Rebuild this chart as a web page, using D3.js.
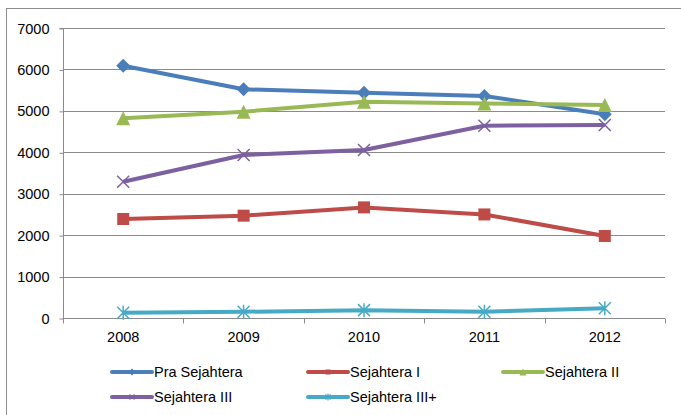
<!DOCTYPE html>
<html>
<head>
<meta charset="utf-8">
<script src="https://cdn.jsdelivr.net/npm/d3@7"></script>
<style>
body { margin: 0; background: #fff; }
svg { display: block; font-family: "Liberation Sans", Arial, sans-serif; }
</style>
</head>
<body>
<svg id="chart" width="681" height="415"></svg>
<script>
var years = ["2008", "2009", "2010", "2011", "2012"];
var yTicks = [0, 1000, 2000, 3000, 4000, 5000, 6000, 7000];
var seriesNames = ["Pra Sejahtera", "Sejahtera I", "Sejahtera II", "Sejahtera III", "Sejahtera III+"];
var praSejahtera = [6090, 5520, 5440, 5360, 4920];
var sejahtera1 = [2390, 2470, 2670, 2500, 1980];
var sejahtera2 = [4820, 4980, 5220, 5180, 5140];
var sejahtera3 = [3290, 3935, 4055, 4640, 4660];
var sejahtera3plus = [128, 150, 190, 150, 235];
var colors = ["#4a7ebb", "#be4b48", "#98b954", "#7d60a0", "#46aac5"];
var markers = ["diamond", "square", "triangle", "x", "star"];

var series = [praSejahtera, sejahtera1, sejahtera2, sejahtera3, sejahtera3plus].map(function(v, i) {
    return { name: seriesNames[i], values: v, color: colors[i], marker: markers[i] };
});

var svg = d3.select("#chart");

// outer chart frame (cut off at right and bottom)
svg.append("rect")
    .attr("x", 6.5).attr("y", 8.5)
    .attr("width", 700).attr("height", 420)
    .attr("fill", "none").attr("stroke", "#8c8c8c").attr("stroke-width", 1);

var plotLeft = 63, plotRight = 665, plotTop = 28, plotBottom = 318;

var x = d3.scaleBand().domain(years).range([plotLeft, plotRight]);
var y = d3.scaleLinear().domain([0, 7000]).range([plotBottom, plotTop]);

// gridlines
svg.append("g").selectAll("line")
    .data(yTicks.filter(function(d) { return d > 0; }))
    .enter().append("line")
    .attr("x1", plotLeft).attr("x2", plotRight)
    .attr("y1", function(d) { return Math.round(y(d)) + 0.5; })
    .attr("y2", function(d) { return Math.round(y(d)) + 0.5; })
    .attr("stroke", "#8a8a8a").attr("stroke-width", 1);

// y axis
var yAxis = svg.append("g")
    .attr("transform", "translate(" + (plotLeft + 0.5) + ",0.5)")
    .call(d3.axisLeft(y).tickValues(yTicks).tickSize(4).tickPadding(10).tickFormat(d3.format("d")));
yAxis.selectAll("line, path").attr("stroke", "#8a8a8a");
yAxis.select(".domain").attr("d", "M-4," + plotTop + "H0V" + plotBottom);
yAxis.selectAll("text").attr("font-size", "14.5px").attr("fill", "#000")
    .attr("font-family", "Liberation Sans, Arial, sans-serif");

// x axis with ticks at band edges
var xg = svg.append("g").attr("transform", "translate(0," + (plotBottom + 0.5) + ")");
xg.append("line").attr("x1", plotLeft).attr("x2", plotRight).attr("stroke", "#8a8a8a");
var edges = years.map(function(d) { return x(d); }).concat([plotRight]);
xg.selectAll(".tk").data(edges).enter().append("line")
    .attr("x1", function(d) { return Math.round(d) + 0.5; })
    .attr("x2", function(d) { return Math.round(d) + 0.5; })
    .attr("y1", 0).attr("y2", 5).attr("stroke", "#8a8a8a");
xg.selectAll("text").data(years).enter().append("text")
    .attr("x", function(d) { return x(d) + x.bandwidth() / 2; })
    .attr("y", 23)
    .attr("text-anchor", "middle")
    .attr("font-size", "14.5px")
    .text(function(d) { return d; });

function markerPath(type, s) {
    var h = s / 2;
    if (type == "diamond") return "M0," + (-h - 1) + "L" + (h + 1) + ",0L0," + (h + 1) + "L" + (-h - 1) + ",0Z";
    if (type == "square") return "M" + (-h) + "," + (-h) + "h" + s + "v" + s + "h" + (-s) + "Z";
    if (type == "triangle") return "M0," + (-h - 1) + "L" + (h + 1) + "," + (h + 1) + "L" + (-h - 1) + "," + (h + 1) + "Z";
    if (type == "x") return "M" + (-h) + "," + (-h) + "L" + h + "," + h + "M" + h + "," + (-h) + "L" + (-h) + "," + h;
    // asterisk
    return "M" + (-h) + "," + (-h) + "L" + h + "," + h + "M" + h + "," + (-h) + "L" + (-h) + "," + h +
        "M0," + (-h - 1) + "V" + (h + 1);
}

function drawMarker(sel, d, s) {
    var stroked = d.marker == "x" || d.marker == "star";
    sel.append("path")
        .attr("d", markerPath(d.marker, s))
        .attr("fill", stroked ? "none" : d.color)
        .attr("stroke", d.color)
        .attr("stroke-width", stroked ? (s > 8 ? 1.5 : 1.2) : 0);
}

var line = d3.line()
    .x(function(d, i) { return x(years[i]) + x.bandwidth() / 2; })
    .y(function(d) { return y(d); });

var gs = svg.append("g").selectAll("g").data(series).enter().append("g");
gs.append("path")
    .attr("d", function(d) { return line(d.values); })
    .attr("fill", "none")
    .attr("stroke", function(d) { return d.color; })
    .attr("stroke-width", 4)
    .attr("stroke-linejoin", "round");
gs.each(function(d) {
    var g = d3.select(this);
    d.values.forEach(function(v, i) {
        var m = g.append("g").attr("transform", "translate(" + (x(years[i]) + x.bandwidth() / 2) + "," + y(v) + ")");
        drawMarker(m, d, 12);
    });
});

// legend
var legendPos = [[112, 372], [308, 372], [503, 372], [112, 397], [308, 397]];
var lg = svg.append("g").selectAll("g").data(series).enter().append("g")
    .attr("transform", function(d, i) { return "translate(" + legendPos[i][0] + "," + legendPos[i][1] + ")"; });
lg.append("line").attr("x1", 0).attr("x2", 40)
    .attr("stroke", function(d) { return d.color; }).attr("stroke-width", 4).attr("stroke-linecap", "round");
lg.each(function(d) {
    var m = d3.select(this).append("g").attr("transform", "translate(20,0)");
    drawMarker(m, d, 5);
});
lg.append("text").attr("x", 42).attr("y", 5)
    .attr("font-size", "14.5px")
    .text(function(d) { return d.name; });
</script>
</body>
</html>
